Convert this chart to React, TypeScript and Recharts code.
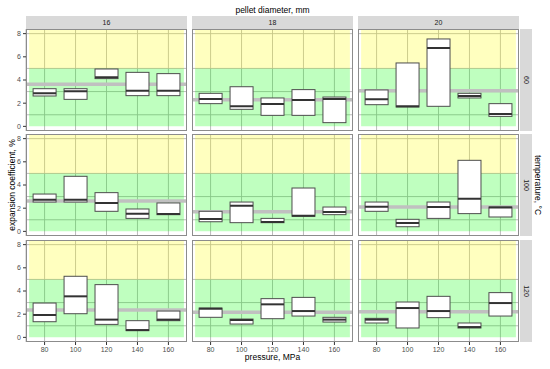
import React from 'react';
import { ComposedChart, Bar, XAxis, YAxis, CartesianGrid, ReferenceArea, ReferenceLine } from 'recharts';

const diameters = ['16', '18', '20'];
const temperatures = ['60', '100', '120'];
const pressures = ['80', '100', '120', '140', '160'];

// each entry: [low, median, high] for one pressure
const box60_16 = [[2.62, 2.85, 3.25], [2.33, 3.02, 3.25], [4.12, 4.23, 4.95], [2.65, 3.08, 4.66], [2.65, 3.08, 4.55]];
const box60_18 = [[1.96, 2.36, 2.85], [1.47, 1.73, 3.42], [0.95, 1.93, 2.45], [0.95, 2.27, 3.17], [0.32, 2.36, 2.53]];
const box60_20 = [[1.87, 2.33, 3.14], [1.67, 1.73, 5.47], [1.73, 6.76, 7.54], [2.45, 2.62, 2.85], [0.86, 1.06, 1.96]];
const box100_16 = [[2.53, 2.73, 3.22], [2.53, 2.73, 4.75], [1.73, 2.45, 3.34], [1.12, 1.53, 1.93], [1.44, 1.5, 2.45]];
const box100_18 = [[0.83, 1.06, 1.73], [0.75, 2.22, 2.53], [0.75, 0.8, 1.12], [1.3, 1.35, 3.74], [1.44, 1.67, 2.1]];
const box100_20 = [[1.73, 2.13, 2.53], [0.4, 0.72, 1.04], [1.12, 2.1, 2.53], [1.53, 2.82, 6.13], [1.24, 2.05, 2.1]];
const box120_16 = [[1.35, 1.93, 2.96], [2.04, 3.54, 5.27], [1.12, 1.53, 4.55], [0.58, 0.63, 1.44], [1.44, 1.53, 2.27]];
const box120_18 = [[1.73, 2.47, 2.53], [1.15, 1.5, 1.58], [1.61, 2.85, 3.34], [1.84, 2.27, 3.45], [1.32, 1.53, 1.73]];
const box120_20 = [[1.24, 1.53, 1.64], [0.81, 2.53, 3.05], [1.7, 2.27, 3.54], [0.81, 0.89, 1.24], [1.84, 2.96, 3.86]];

const boxes = [
  [box60_16, box60_18, box60_20],
  [box100_16, box100_18, box100_20],
  [box120_16, box120_18, box120_20],
];

// panel mean (grey horizontal line)
const means = [[3.63, 2.3, 3.08], [2.62, 1.7, 2.1], [2.36, 2.16, 2.22]];

const yTicks = [0, 2, 4, 6, 8];
const gridValues = [0, 1, 2, 3, 4, 5, 6, 7, 8];

const COL_X = [26, 192, 358];
const ROW_Y = [29, 134, 240];
const PW = 161;
const PH = 102;
const FONT = '"Liberation Sans", Arial, sans-serif';

const BoxShape = (props: any) => {
  const { x, y, width, height, payload } = props;
  const top = Math.min(y, y + height);
  const h = Math.abs(height);
  const my = top + (h * (payload.high - payload.median)) / (payload.high - payload.low);
  return (
    <g>
      <rect x={x} y={top} width={width} height={h} fill="#ffffff" stroke="#4d4d4d" strokeWidth={1} />
      <line x1={x} x2={x + width} y1={my} y2={my} stroke="#333333" strokeWidth={2} />
    </g>
  );
};

function Panel({ row, col }: { row: number; col: number }) {
  const left = col === 0;
  const bottom = row === 2;
  const yw = left ? 26 : 0;
  const xh = bottom ? 14 : 0;
  const data = pressures.map((p, i) => ({
    pressure: p,
    low: boxes[row][col][i][0],
    median: boxes[row][col][i][1],
    high: boxes[row][col][i][2],
  }));
  return (
    <div style={{ position: 'absolute', left: COL_X[col] - yw, top: ROW_Y[row] }}>
      <ComposedChart
        width={PW + yw}
        height={PH + xh}
        data={data}
        margin={{ top: 0, right: 0, bottom: 0, left: 0 }}
        barCategoryGap={0}
      >
        <CartesianGrid stroke="#b4b4b4" strokeWidth={0.9} horizontalValues={gridValues} />
        <ReferenceArea y1={0} y2={5} fill="#00ff00" fillOpacity={0.25} stroke="none" />
        <ReferenceArea y1={5} y2={8.4} fill="#ffff00" fillOpacity={0.25} stroke="none" />
        <XAxis
          dataKey="pressure"
          hide={!bottom}
          height={14}
          padding={{ left: 3.1, right: 3.1 }}
          interval={0}
          tickSize={3}
          axisLine={false}
          tickLine={{ stroke: '#333333' }}
          tick={{ fontSize: 7, fill: '#4d4d4d', fontFamily: FONT }}
        />
        <YAxis
          type="number"
          domain={[-0.4, 8.4]}
          allowDataOverflow
          ticks={yTicks}
          hide={!left}
          width={26}
          tickSize={3}
          axisLine={false}
          tickLine={{ stroke: '#333333' }}
          tick={{ fontSize: 7, fill: '#4d4d4d', fontFamily: FONT }}
        />
        <ReferenceLine y={means[row][col]} stroke="#c0c0c0" strokeWidth={3.5} zIndex={250} />
        <Bar
          dataKey={(d: any) => [d.low, d.high]}
          barSize={23}
          shape={BoxShape}
          isAnimationActive={false}
        />
      </ComposedChart>
      <div
        style={{
          position: 'absolute',
          left: yw,
          top: 0,
          width: PW,
          height: PH,
          border: '1px solid #8c8c8c',
          boxSizing: 'border-box',
          pointerEvents: 'none',
        }}
      />
    </div>
  );
}

export default function App() {
  return (
    <div
      style={{
        position: 'absolute',
        left: 0,
        top: 0,
        width: 550,
        height: 369,
        background: '#ffffff',
        fontFamily: FONT,
        overflow: 'hidden',
      }}
    >
      <div style={{ position: 'absolute', left: 0, width: 545, top: 5, textAlign: 'center', fontSize: 8.5, color: '#000' }}>
        pellet diameter, mm
      </div>
      {diameters.map((d, c) => (
        <div
          key={d}
          style={{
            position: 'absolute',
            left: COL_X[c],
            top: 16,
            width: PW,
            height: 13,
            background: '#d9d9d9',
            fontSize: 7,
            color: '#1a1a1a',
            textAlign: 'center',
            lineHeight: '13px',
          }}
        >
          {d}
        </div>
      ))}
      {temperatures.map((t, r) => (
        <div
          key={t}
          style={{
            position: 'absolute',
            left: 520,
            top: ROW_Y[r],
            width: 12,
            height: PH,
            background: '#d9d9d9',
          }}
        >
          <div
            style={{
              position: 'absolute',
              left: 6,
              top: PH / 2,
              transform: 'translate(-50%, -50%) rotate(90deg)',
              fontSize: 7,
              color: '#1a1a1a',
              whiteSpace: 'nowrap',
            }}
          >
            {t}
          </div>
        </div>
      ))}
      {temperatures.map((t, r) =>
        diameters.map((d, c) => <Panel key={t + '-' + d} row={r} col={c} />)
      )}
      <div
        style={{
          position: 'absolute',
          left: 12,
          top: 185,
          transform: 'translate(-50%, -50%) rotate(-90deg)',
          fontSize: 8.5,
          whiteSpace: 'nowrap',
        }}
      >
        expansion coefficient, %
      </div>
      <div
        style={{
          position: 'absolute',
          left: 538,
          top: 185,
          transform: 'translate(-50%, -50%) rotate(90deg)',
          fontSize: 8.5,
          whiteSpace: 'nowrap',
        }}
      >
        temperature, °C
      </div>
      <div style={{ position: 'absolute', left: 0, width: 545, top: 352, textAlign: 'center', fontSize: 8.5 }}>
        pressure, MPa
      </div>
    </div>
  );
}
